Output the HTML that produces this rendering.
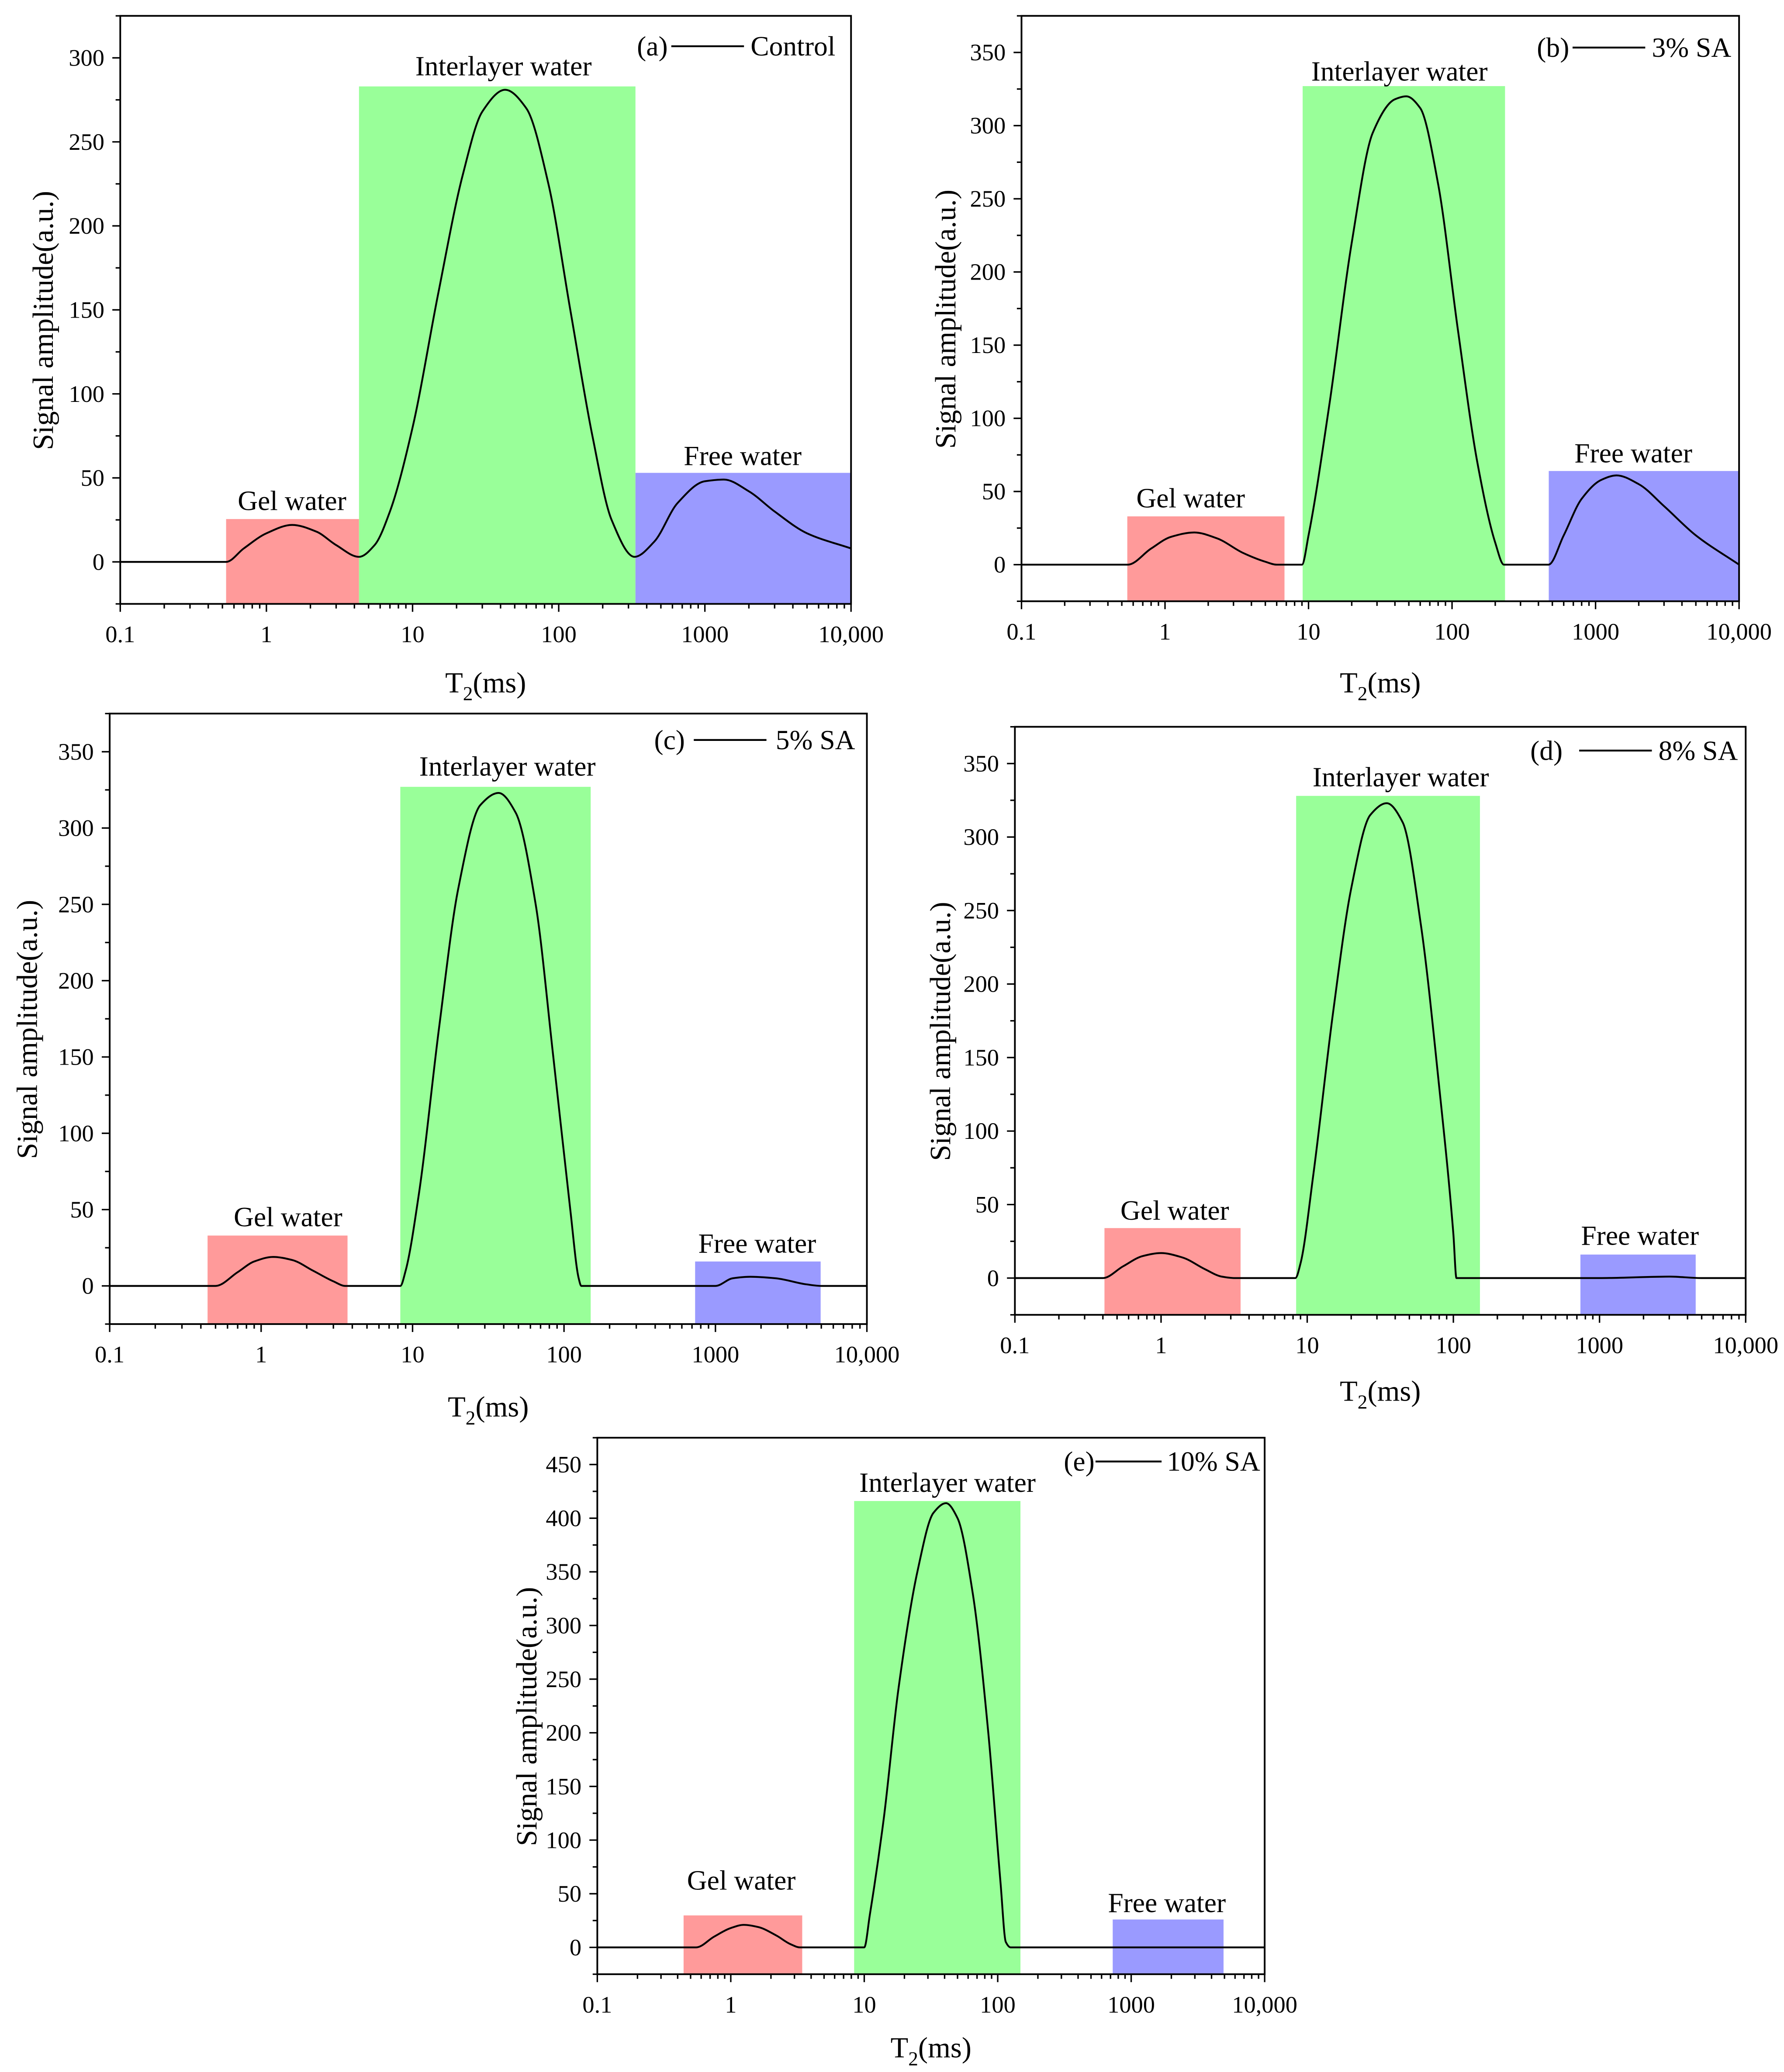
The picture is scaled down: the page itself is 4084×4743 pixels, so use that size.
<!DOCTYPE html>
<html><head><meta charset="utf-8">
<style>
html,body{margin:0;padding:0;background:#fff;}
svg{display:block;font-family:"Liberation Serif","Times New Roman",serif;}
svg text{font-family:"Liberation Serif","Times New Roman",serif;fill:#000;}
</style></head>
<body>
<svg id="fig" xmlns="http://www.w3.org/2000/svg" width="4084" height="4743" viewBox="0 0 1350 1568" preserveAspectRatio="none" font-family="Liberation Serif, serif"></svg>
<script>
// ---- data ----
const panelIds = ['a','b','c','d','e'];
const legendNames = ['Control','3% SA','5% SA','8% SA','10% SA'];
const xTickLabels = ['0.1','1','10','100','1000','10,000'];
const yMaxes = [325, 375, 375, 375, 475];
const yTickTops = [300, 350, 350, 350, 450];
// region rectangles [start T2, end T2, height]
const gelRegions = [[0.53,4.3,25.5],[0.546,6.8,33],[0.443,3.72,33],[0.41,3.5,34],[0.443,3.43,29.8]];
const interRegions = [[4.3,335,283],[9.1,234,327],[8.3,150,327],[8.4,152,328],[8.4,148,416]];
const freeRegions = [[335,10000,53],[472,10000,64],[734,4950,16],[740,4550,16],[727,4920,26]];
// curves: T2 values and amplitudes
const curveT_a = [0.1,0.53,0.7,1.0,1.5,2.2,3.0,4.3,5.5,7,10,15,22,30,43,60,85,120,170,230,330,450,650,1000,1350,2000,3000,5000,10000];
const curveV_a = [0,0,8,17,22,18,10,3,10,30,80,160,230,268,281,270,225,150,75,25,3,12,35,48,49,42,30,17,8];
const curveT_b = [0.1,0.55,0.8,1.1,1.6,2.3,3.5,5,6,9,10,14,20,28,40,48,60,80,110,150,200,230,470,600,800,1100,1400,2000,3000,5000,10000];
const curveV_b = [0,0,11,19,22,18,8,2,0,0,20,110,220,295,318,320,312,260,160,70,15,0,0,20,45,58,61,55,40,20,0];
const curveT_c = [0.1,0.5,0.7,0.9,1.2,1.6,2.2,3.0,3.6,8.3,9,11,15,20,28,37,48,65,85,110,125,130,1000,1300,1700,2500,4000,5000,10000];
const curveV_c = [0,0,9,16,19,17,10,3,0,0,10,60,170,260,315,323,310,250,150,50,5,0,0,5,6,5,1,0,0];
const curveT_d = [0.1,0.4,0.55,0.75,1.0,1.4,2.0,2.6,3.2,8.3,9,11,15,20,27,35,45,60,80,100,105,1000,3000,5000,10000];
const curveV_d = [0,0,8,15,17,14,6,1,0,0,10,70,180,265,315,323,310,240,130,30,0,0,1,0,0];
const curveT_e = [0.1,0.55,0.75,1.0,1.25,1.6,2.2,2.8,3.3,10,11,14,18,25,33,41,50,65,85,105,115,125,10000];
const curveV_e = [0,0,10,18,21,19,11,3,0,0,30,120,240,350,405,414,400,330,200,60,5,0,0];
const curvesT = [curveT_a,curveT_b,curveT_c,curveT_d,curveT_e];
const curvesV = [curveV_a,curveV_b,curveV_c,curveV_d,curveV_e];

// ---- layout (display units) ----
const boxes = [
 {l:91,r:644,t:12,b:457, yt:33, xtY:517, leg:[482,508,563,568,35], il:[381,50], gl:[221,379], fl:[562,345]},
 {l:773,r:1316,t:12,b:455, yt:716, xtY:517, leg:[1163,1190,1245,1250,36], il:[1059,54], gl:[901,377], fl:[1236,343]},
 {l:83,r:656,t:540,b:1002, yt:21, xtY:1065, leg:[495,525,580,587,560], il:[384,580], gl:[218,921], fl:[573,941]},
 {l:768,r:1321,t:550,b:995, yt:712, xtY:1053, leg:[1158,1195,1250,1255,568], il:[1060,588], gl:[889,916], fl:[1241,935]},
 {l:452,r:957,t:1088,b:1494, yt:399, xtY:1550, leg:[805,829,879,883,1106], il:[717,1122], gl:[561,1423], fl:[883,1440]}
];
const FONT='Liberation Serif, Times New Roman, serif';
const NS='http://www.w3.org/2000/svg';
const svg=document.getElementById('fig');
function mk(tag,attrs,parent){const e=document.createElementNS(NS,tag);for(const k in attrs)e.setAttribute(k,attrs[k]);if(tag==='text')e.setAttribute('font-family',FONT);(parent||svg).appendChild(e);return e;}

// monotone cubic interpolation path
function monotonePath(P){
  const n=P.length, dx=[], m=[], s=[];
  for(let k=0;k<n-1;k++){dx[k]=P[k+1][0]-P[k][0];s[k]=(P[k+1][1]-P[k][1])/dx[k];}
  m[0]=s[0];m[n-1]=s[n-2];
  for(let k=1;k<n-1;k++){
    if(s[k-1]*s[k]<=0)m[k]=0;
    else{const w1=2*dx[k]+dx[k-1],w2=dx[k]+2*dx[k-1];m[k]=(w1+w2)/(w1/s[k-1]+w2/s[k]);}
  }
  let d='M'+P[0][0].toFixed(2)+' '+P[0][1].toFixed(2);
  for(let k=0;k<n-1;k++){
    const h=dx[k]/3;
    d+=' C'+(P[k][0]+h).toFixed(2)+' '+(P[k][1]+m[k]*h).toFixed(2)+' '+(P[k+1][0]-h).toFixed(2)+' '+(P[k+1][1]-m[k+1]*h).toFixed(2)+' '+P[k+1][0].toFixed(2)+' '+P[k+1][1].toFixed(2);
  }
  return d;
}

panelIds.forEach((id,i)=>{
  const B=boxes[i];
  const g=mk('g',{});
  
  
  const yMin=-25,yMax=yMaxes[i];
  const X=t=>B.l+(Math.log10(t)+1)/5*(B.r-B.l);
  const Y=v=>B.b-(v-yMin)/(yMax-yMin)*(B.b-B.t);
  const clipId='clip'+id;
  const cp=mk('clipPath',{id:clipId},g);mk('rect',{x:B.l,y:B.t,width:B.r-B.l,height:B.b-B.t},cp);
  [[gelRegions,'#ff9a9a','gel-water-region'],[interRegions,'#99ff99','interlayer-water-region'],[freeRegions,'#9a9aff','free-water-region']].forEach(([arr,col,nm])=>{
    const r=arr[i];
    const re=mk('rect',{x:X(r[0]),y:Y(r[2]),width:X(r[1])-X(r[0]),height:B.b-Y(r[2]),fill:col},g);
    
    
  });
  const T=curvesT[i],V=curvesV[i];
  const P=T.map((t,k)=>[X(t),Y(V[k])]);
  const cu=mk('path',{d:monotonePath(P),fill:'none',stroke:'#000','stroke-width':1.4,'clip-path':'url(#'+clipId+')'},g);
  
  
  const fr=mk('rect',{x:B.l,y:B.t,width:B.r-B.l,height:B.b-B.t,fill:'none',stroke:'#000','stroke-width':1.3},g);
  
  
  for(let dcd=0;dcd<5;dcd++){
    for(let m=1;m<10;m++){
      const x=X(Math.pow(10,dcd-1)*m);
      mk('line',{x1:x,x2:x,y1:B.b,y2:B.b+(m===1?6:3.5),stroke:'#000','stroke-width':1.1},g);
    }
  }
  mk('line',{x1:B.r,x2:B.r,y1:B.b,y2:B.b+6,stroke:'#000','stroke-width':1.1},g);
  xTickLabels.forEach((lab,k)=>{
    const tx=mk('text',{x:X(Math.pow(10,k-1)),y:B.b+29,'font-size':18,'text-anchor':'middle'},g);
    tx.textContent=lab;
    
    
  });
  for(let v=-25;v<=yMax;v+=25){
    const y=Y(v);
    const major=(v%50===0);
    mk('line',{x1:B.l,x2:B.l-(major?6:3.5),y1:y,y2:y,stroke:'#000','stroke-width':1.1},g);
    if(major&&v>=0&&v<=yTickTops[i]){
      const tx=mk('text',{x:B.l-12,y:y+6,'font-size':18,'text-anchor':'end'},g);
      tx.textContent=String(v);
      
      
    }
  }
  const yt=mk('text',{x:0,y:0,'font-size':22,'text-anchor':'middle',transform:'translate('+(B.yt+7)+','+((B.t+B.b)/2+8)+') rotate(-90)'},g);
  yt.textContent='Signal amplitude(a.u.)';
  
  
  const xt=mk('text',{x:(B.l+B.r)/2,y:B.xtY+7,'font-size':22,'text-anchor':'middle'},g);
  xt.innerHTML='T<tspan font-size="15" dy="6">2</tspan><tspan dy="-6">(ms)</tspan>';
  
  
  const L=B.leg;
  const lg=mk('g',{},g);
  
  
  const lt=mk('text',{x:L[0],y:L[4]+7,'font-size':21},lg);lt.textContent='('+id+')';
  mk('line',{x1:L[1],x2:L[2],y1:L[4],y2:L[4],stroke:'#000','stroke-width':1.4},lg);
  const ln=mk('text',{x:L[3],y:L[4]+7,'font-size':21},lg);ln.textContent=legendNames[i];
  [['Interlayer water',B.il,'interlayer-water-label'],['Gel water',B.gl,'gel-water-label'],['Free water',B.fl,'free-water-label']].forEach(([s,p,nm])=>{
    const tx=mk('text',{x:p[0],y:p[1]+7,'font-size':21,'text-anchor':'middle'},g);
    tx.textContent=s;
    
    
  });
});
</script>
</body></html>
